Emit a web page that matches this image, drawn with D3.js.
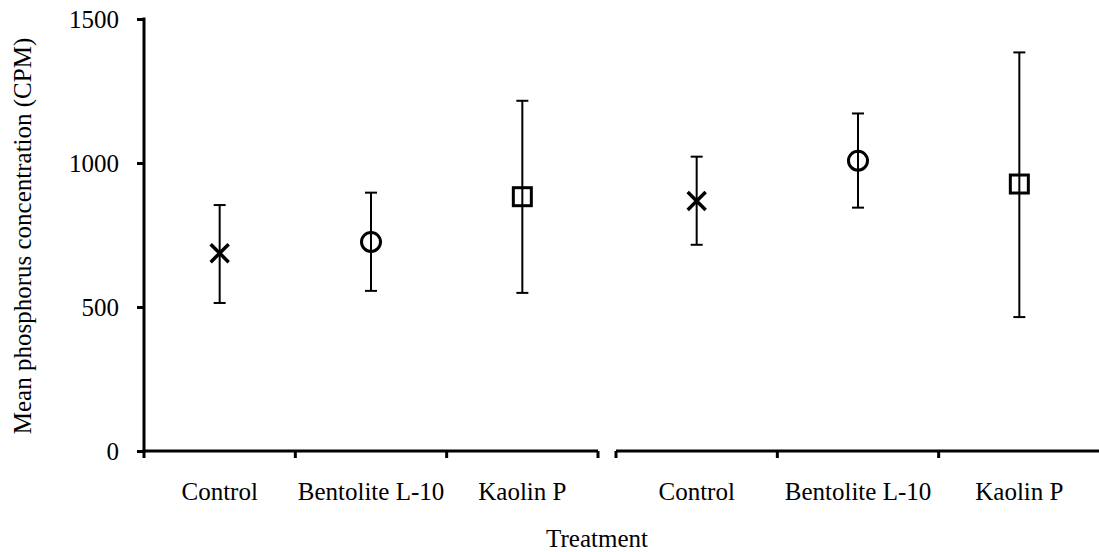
<!DOCTYPE html>
<html>
<head>
<meta charset="utf-8">
<script src="https://cdn.jsdelivr.net/npm/d3@7"></script>
<style>
  body { margin: 0; background: #fff; }
  text { font-family: "Liberation Serif", "Times New Roman", serif; fill: #000; }
</style>
</head>
<body>
<svg id="chart" width="1099" height="552"></svg>
<script>
// treatments, repeated for both groups
const treatments = ["Control", "Bentolite L-10", "Kaolin P"];
const markers = ["cross", "circle", "square"];

// first group
const meansA = [687, 726, 883];
const upperA = [854, 897, 1216];
const lowerA = [514, 556, 549];

// second group
const meansB = [868, 1008, 927];
const upperB = [1022, 1172, 1384];
const lowerB = [716, 845, 465];

const yTicks = [0, 500, 1000, 1500];

const svg = d3.select("#chart");
const fontSize = 25;

const y = d3.scaleLinear().domain([0, 1500]).range([451, 19]);

// two separate category axes, side by side
const xA = d3.scaleBand().domain(treatments).range([144, 598]);
const xB = d3.scaleBand().domain(treatments).range([616, 1100]);

const groups = [
    { x: xA, means: meansA, upper: upperA, lower: lowerA },
    { x: xB, means: meansB, upper: upperB, lower: lowerB }
];

// y axis
const yAxis = svg.append("g")
    .attr("transform", "translate(144,0)")
    .call(d3.axisLeft(y).tickValues(yTicks).tickFormat(d3.format("d"))
        .tickSize(7).tickSizeOuter(0).tickPadding(18));
yAxis.select(".domain").attr("stroke", "#000").attr("stroke-width", 3)
    .attr("d", `M0,${y(1500) - 1.5}V${y(0) + 1.5}`);
yAxis.selectAll(".tick line").attr("stroke", "#000").attr("stroke-width", 3);
yAxis.selectAll(".tick text")
    .style("font-family", "'Liberation Serif', serif")
    .attr("font-size", fontSize).attr("fill", "#000");

// x axes: line plus ticks at the category boundaries
groups.forEach((g, gi) => {
    const [r0, r1] = g.x.range();
    const bounds = d3.range(treatments.length + 1).map(i => r0 + i * g.x.step());
    const ax = svg.append("g");
    ax.append("path")
        .attr("d", `M${r0 - (gi === 0 ? 1.5 : 0)},451H${r1}`)
        .attr("stroke", "#000").attr("stroke-width", 3).attr("fill", "none");
    ax.selectAll("line.tick")
        .data(bounds.filter(b => b < 1099))
        .join("line")
        .attr("class", "tick")
        .attr("x1", d => d).attr("x2", d => d)
        .attr("y1", 451).attr("y2", 458)
        .attr("stroke", "#000").attr("stroke-width", 3);

    const lab = svg.append("g")
        .attr("transform", "translate(0,451)")
        .call(d3.axisBottom(g.x).tickSize(0).tickPadding(31));
    lab.select(".domain").remove();
    lab.selectAll(".tick text")
        .style("font-family", "'Liberation Serif', serif")
        .attr("font-size", fontSize).attr("fill", "#000");
});

// error bars and markers
groups.forEach(g => {
    const rows = treatments.map((t, i) => ({
        t, m: g.means[i], hi: g.upper[i], lo: g.lower[i], shape: markers[i]
    }));
    const cx = d => g.x(d.t) + g.x.bandwidth() / 2;
    const pts = svg.append("g").selectAll("g").data(rows).join("g");

    pts.append("line")
        .attr("x1", cx).attr("x2", cx)
        .attr("y1", d => y(d.hi)).attr("y2", d => y(d.lo))
        .attr("stroke", "#000").attr("stroke-width", 2);
    pts.selectAll("line.cap")
        .data(d => [d.hi, d.lo].map(v => ({ d, v })))
        .join("line")
        .attr("class", "cap")
        .attr("x1", e => cx(e.d) - 6).attr("x2", e => cx(e.d) + 6)
        .attr("y1", e => y(e.v)).attr("y2", e => y(e.v))
        .attr("stroke", "#000").attr("stroke-width", 2);

    pts.each(function (d) {
        const el = d3.select(this);
        const px = cx(d), py = y(d.m);
        if (d.shape === "cross") {
            el.append("path")
                .attr("d", `M${px - 9},${py - 9}L${px + 9},${py + 9}M${px - 9},${py + 9}L${px + 9},${py - 9}`)
                .attr("stroke", "#000").attr("stroke-width", 3.5).attr("fill", "none");
        } else if (d.shape === "circle") {
            el.append("circle")
                .attr("cx", px).attr("cy", py).attr("r", 9.5)
                .attr("stroke", "#000").attr("stroke-width", 3).attr("fill", "none");
        } else {
            el.append("rect")
                .attr("x", px - 9).attr("y", py - 9)
                .attr("width", 18).attr("height", 18)
                .attr("stroke", "#000").attr("stroke-width", 3).attr("fill", "none");
        }
    });
});

// axis titles
svg.append("text")
    .attr("transform", "translate(31,236) rotate(-90)")
    .attr("text-anchor", "middle")
    .attr("font-size", fontSize)
    .text("Mean phosphorus concentration (CPM)");

svg.append("text")
    .attr("x", 597).attr("y", 547)
    .attr("text-anchor", "middle")
    .attr("font-size", fontSize)
    .text("Treatment");
</script>
</body>
</html>
